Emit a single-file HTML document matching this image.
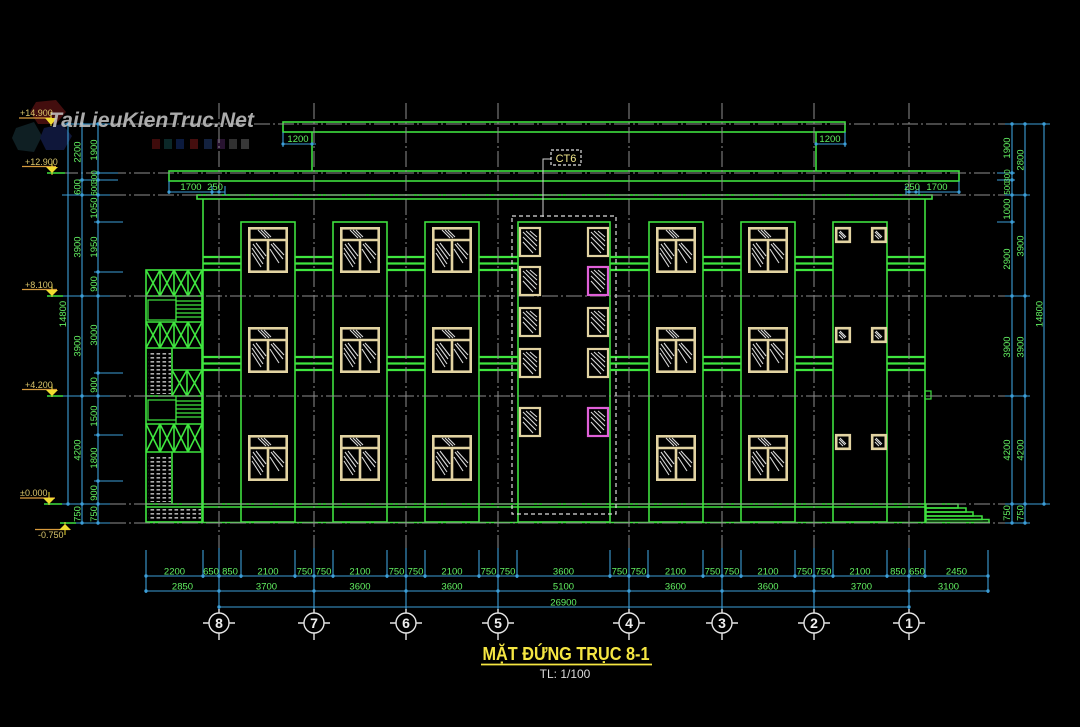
<!DOCTYPE html>
<html>
<head>
<meta charset="utf-8">
<style>
html,body{margin:0;padding:0;background:#000;}
body{width:1080px;height:727px;overflow:hidden;}
svg{display:block;}
.t{font-family:"Liberation Sans Narrow","Liberation Sans",sans-serif;font-size:9.5px;fill:#62f062;}
.lv{font-family:"Liberation Sans Narrow","Liberation Sans",sans-serif;font-size:9px;fill:#d8c46a;}
</style>
</head>
<body>
<svg width="1080" height="727" viewBox="0 0 1080 727" xmlns="http://www.w3.org/2000/svg">
<rect width="1080" height="727" fill="#000"/>
<defs>
  <pattern id="dots" width="6" height="4" patternUnits="userSpaceOnUse">
    <rect x="0.5" y="1.2" width="3.6" height="1.3" fill="#d8d8d8"/>
  </pattern>
  <g id="win">
    <rect x="1.3" y="1.3" width="37.4" height="43.4" fill="#000" stroke="#e2d3a2" stroke-width="2.6"/>
    <path d="M2 13H38M20 13V45" stroke="#e2d3a2" stroke-width="2.6" fill="none"/>
    <path d="M10 3L18 11M13 3L21 11M16 3L23 10M5 17L16 32M4 21L15 37M4 26L13 40M8 16L18 29M23 17L35 32M25 16L36 28M22 22L31 36" stroke="#d8d8d8" stroke-width="1.1" fill="none"/>
  </g>
  <g id="sw">
    <rect x="1" y="1" width="20" height="28" fill="#000" stroke="#e2d3a2" stroke-width="2.2"/>
    <path d="M4 5L18 19M4 10L17 23M4 15L14 26M7 4L18 14M11 4L18 10" stroke="#d8d8d8" stroke-width="1.1" fill="none"/>
  </g>
  <g id="swm">
    <rect x="1" y="1" width="20" height="28" fill="#000" stroke="#e060d8" stroke-width="2.2"/>
    <path d="M4 5L18 19M4 10L17 23M4 15L14 26M7 4L18 14M11 4L18 10" stroke="#d8d8d8" stroke-width="1.1" fill="none"/>
  </g>
  <g id="sq">
    <rect x="1.2" y="1.2" width="13.6" height="13.6" fill="#000" stroke="#e2d3a2" stroke-width="2.6"/>
    <path d="M4 5L10 11M5 4L11 10M4 8L8 12" stroke="#d8d8d8" stroke-width="1.1" fill="none"/>
  </g>
</defs>

<!-- watermark logo -->
<g opacity="0.55">
  <polygon points="36,102 56,100 66,112 56,124 38,124 30,112" fill="#7a1a1a"/>
  <polygon points="16,128 34,122 42,136 34,152 18,150 12,138" fill="#1c3a40"/>
  <polygon points="44,128 62,124 72,136 64,150 46,150 40,138" fill="#1c2a6a"/>
</g>
<g opacity="0.45">
  <rect x="152" y="139" width="8" height="10" fill="#8a1a1a"/>
  <rect x="164" y="139" width="8" height="10" fill="#1a5a5a"/>
  <rect x="176" y="139" width="8" height="10" fill="#1a3a8a"/>
  <rect x="190" y="139" width="8" height="10" fill="#9a2020"/>
  <rect x="204" y="139" width="8" height="10" fill="#2a4a8a"/>
  <rect x="217" y="139" width="8" height="10" fill="#5a2a6a"/>
  <rect x="229" y="139" width="8" height="10" fill="#6a6a6a"/>
  <rect x="241" y="139" width="8" height="10" fill="#7a7a7a"/>
</g>

<!-- building base green elements -->
<g stroke="#3fe03f" fill="none" stroke-width="1.6">
  <rect x="283" y="122" width="562" height="10"/>
  <line x1="312" y1="132" x2="312" y2="171"/>
  <line x1="816" y1="132" x2="816" y2="171"/>
  <rect x="169" y="171" width="790" height="10"/>
  <rect x="197" y="195" width="735" height="4"/>
  <line x1="203" y1="199" x2="203" y2="522"/>
  <line x1="925" y1="199" x2="925" y2="522"/>
</g>
<!-- horizontal bands -->
<g stroke="#3fe63f" stroke-width="2.3">
  <line x1="203" y1="257" x2="925" y2="257"/>
  <line x1="203" y1="263.5" x2="925" y2="263.5"/>
  <line x1="203" y1="270" x2="925" y2="270"/>
  <line x1="203" y1="357" x2="925" y2="357"/>
  <line x1="203" y1="363.5" x2="925" y2="363.5"/>
  <line x1="203" y1="370" x2="925" y2="370"/>
</g>
<!-- pilasters -->
<g stroke="#3fe03f" fill="#000" stroke-width="1.6">
  <rect x="241" y="222" width="54" height="300"/>
  <rect x="333" y="222" width="54" height="300"/>
  <rect x="425" y="222" width="54" height="300"/>
  <rect x="518" y="222" width="92" height="300"/>
  <rect x="649" y="222" width="54" height="300"/>
  <rect x="741" y="222" width="54" height="300"/>
  <rect x="833" y="222" width="54" height="300"/>
</g>
<!-- plinth -->
<g stroke="#3fe03f" fill="none" stroke-width="1.5">
  <line x1="146" y1="504" x2="925" y2="504"/>
  <line x1="146" y1="507" x2="925" y2="507"/>
  <line x1="146" y1="522.5" x2="990" y2="522.5"/>
  <rect x="926" y="504" width="32" height="4"/>
  <rect x="926" y="508" width="40" height="4"/>
  <rect x="926" y="512" width="47" height="4"/>
  <rect x="926" y="516" width="56" height="3.5"/>
  <rect x="926" y="519.5" width="63" height="3"/>
  <rect x="925" y="391" width="6" height="8" stroke-width="1.2"/>
</g>

<!-- stair tower -->
<g stroke="#3fe63f" fill="none" stroke-width="1.6">
  <rect x="146" y="270" width="56" height="252"/>
  <path d="M146 296H202M146 322H202M146 348H202M146 396H202M146 424H202M146 452H202"/>
  <path d="M160 270V296M174 270V296M188 270V296M146 270L160 296M160 270L146 296M160 270L174 296M174 270L160 296M174 270L188 296M188 270L174 296M188 270L202 296M202 270L188 296"/>
  <path d="M160 322V348M174 322V348M188 322V348M146 322L160 348M160 322L146 348M160 322L174 348M174 322L160 348M174 322L188 348M188 322L174 348M188 322L202 348M202 322L188 348"/>
  <path d="M160 424V452M174 424V452M188 424V452M146 424L160 452M160 424L146 452M160 424L174 452M174 424L160 452M174 424L188 452M188 424L174 452M188 424L202 452M202 424L188 452"/>
  <path d="M172 370H202M187 370V396M172 370L187 396M187 370L172 396M187 370L202 396M202 370L187 396"/>
  <path d="M172 348V396M172 452V504"/>
  <rect x="148" y="300" width="28" height="20" stroke-width="1.2"/>
  <rect x="148" y="400" width="28" height="20" stroke-width="1.2"/>
  <path d="M176 296V322M176 301H202M176 305H202M176 309H202M176 313H202M176 317H202M176 396V424M176 401H202M176 405H202M176 409H202M176 413H202M176 417H202" stroke-width="1.2"/>
</g>
<rect x="148" y="351" width="23" height="43" fill="url(#dots)"/>
<rect x="148" y="455" width="23" height="47" fill="url(#dots)"/>
<rect x="148" y="509" width="53" height="12" fill="url(#dots)"/>

<!-- level dash-dot lines -->
<g stroke="#8e8e8e" stroke-width="1" stroke-dasharray="16 3 2 3" fill="none">
  <line x1="62" y1="124" x2="1012" y2="124"/>
  <line x1="62" y1="173" x2="1012" y2="173"/>
  <line x1="62" y1="195" x2="1012" y2="195"/>
  <line x1="62" y1="296" x2="1012" y2="296"/>
  <line x1="62" y1="396" x2="1012" y2="396"/>
  <line x1="62" y1="504" x2="1012" y2="504"/>
  <line x1="62" y1="523" x2="1012" y2="523"/>
  <line x1="219" y1="103" x2="219" y2="612"/>
  <line x1="314" y1="103" x2="314" y2="612"/>
  <line x1="406" y1="103" x2="406" y2="612"/>
  <line x1="498" y1="103" x2="498" y2="612"/>
  <line x1="629" y1="103" x2="629" y2="612"/>
  <line x1="722" y1="103" x2="722" y2="612"/>
  <line x1="814" y1="103" x2="814" y2="612"/>
  <line x1="909" y1="103" x2="909" y2="612"/>
</g>

<!-- windows -->
<use href="#win" x="248" y="227"/><use href="#win" x="340" y="227"/><use href="#win" x="432" y="227"/><use href="#win" x="656" y="227"/><use href="#win" x="748" y="227"/>
<use href="#win" x="248" y="327"/><use href="#win" x="340" y="327"/><use href="#win" x="432" y="327"/><use href="#win" x="656" y="327"/><use href="#win" x="748" y="327"/>
<use href="#win" x="248" y="435"/><use href="#win" x="340" y="435"/><use href="#win" x="432" y="435"/><use href="#win" x="656" y="435"/><use href="#win" x="748" y="435"/>

<use href="#sw" x="519" y="227"/><use href="#sw" x="519" y="266"/><use href="#sw" x="519" y="307"/><use href="#sw" x="519" y="348"/><use href="#sw" x="519" y="407"/>
<use href="#sw" x="587" y="227"/><use href="#swm" x="587" y="266"/><use href="#sw" x="587" y="307"/><use href="#sw" x="587" y="348"/><use href="#swm" x="587" y="407"/>

<use href="#sq" x="835" y="227"/><use href="#sq" x="871" y="227"/>
<use href="#sq" x="835" y="327"/><use href="#sq" x="871" y="327"/>
<use href="#sq" x="835" y="434"/><use href="#sq" x="871" y="434"/>

<!-- CT6 callout -->
<rect x="512" y="216" width="104" height="298" fill="none" stroke="#dcdcdc" stroke-width="1.2" stroke-dasharray="4 3"/>
<path d="M543 217V159H551" fill="none" stroke="#d0d0d0" stroke-width="1"/>
<rect x="551" y="150" width="30" height="15" fill="#000" stroke="#e0e0e0" stroke-width="1.2" stroke-dasharray="3 2"/>
<text x="566" y="162" text-anchor="middle" style="font-family:'Liberation Sans Narrow','Liberation Sans',sans-serif;font-size:11px;fill:#f0e68a;">CT6</text>

<!-- top small dims -->
<g stroke="#3c9ed8" stroke-width="1.1" fill="none">
  <path d="M283 132V147M283 144H316M816 144H845M845 132V147"/>
  <path d="M169 181V194M169 192H225M212 186V195M225 186V195M906 186V195M919 186V195M906 192H959M959 181V194"/>
</g>
<g fill="#3c9ed8">
  <circle cx="283" cy="144" r="1.6"/><circle cx="312" cy="144" r="1.6"/><circle cx="816" cy="144" r="1.6"/><circle cx="845" cy="144" r="1.6"/>
  <circle cx="169" cy="192" r="1.6"/><circle cx="212" cy="192" r="1.6"/><circle cx="219" cy="192" r="1.6"/>
  <circle cx="909" cy="192" r="1.6"/><circle cx="916" cy="192" r="1.6"/><circle cx="959" cy="192" r="1.6"/>
</g>
<text class="t" x="298" y="142" text-anchor="middle">1200</text>
<text class="t" x="830" y="142" text-anchor="middle">1200</text>
<text class="t" x="191" y="190" text-anchor="middle">1700</text>
<text class="t" x="215" y="190" text-anchor="middle">250</text>
<text class="t" x="912" y="190" text-anchor="middle">250</text>
<text class="t" x="937" y="190" text-anchor="middle">1700</text>

<!-- left dimensions -->
<g stroke="#3c9ed8" stroke-width="1.1" fill="none">
  <line x1="68" y1="124" x2="68" y2="504"/>
  <line x1="82" y1="124" x2="82" y2="523"/>
  <line x1="98" y1="124" x2="98" y2="523"/>
  <path d="M62 124H110M62 195H110M62 296H110M62 396H110M62 504H110M75 523H110M94 173H118M78 180H118M94 222H123M94 272H123M94 373H123M94 435H123M94 481H123"/>
</g>
<g fill="#3c9ed8">
  <circle cx="68" cy="124" r="1.7"/><circle cx="68" cy="504" r="1.7"/>
  <circle cx="82" cy="124" r="1.7"/><circle cx="82" cy="180" r="1.7"/><circle cx="82" cy="195" r="1.7"/><circle cx="82" cy="296" r="1.7"/><circle cx="82" cy="396" r="1.7"/><circle cx="82" cy="504" r="1.7"/><circle cx="82" cy="523" r="1.7"/>
  <circle cx="98" cy="124" r="1.7"/><circle cx="98" cy="173" r="1.7"/><circle cx="98" cy="180" r="1.7"/><circle cx="98" cy="195" r="1.7"/><circle cx="98" cy="222" r="1.7"/><circle cx="98" cy="272" r="1.7"/><circle cx="98" cy="296" r="1.7"/><circle cx="98" cy="373" r="1.7"/><circle cx="98" cy="396" r="1.7"/><circle cx="98" cy="435" r="1.7"/><circle cx="98" cy="481" r="1.7"/><circle cx="98" cy="504" r="1.7"/><circle cx="98" cy="523" r="1.7"/>
</g>
<g text-anchor="middle">
  <text class="t" transform="translate(66,314) rotate(-90)">14800</text>
  <text class="t" transform="translate(80.5,152) rotate(-90)">2200</text>
  <text class="t" transform="translate(80.5,187) rotate(-90)">600</text>
  <text class="t" transform="translate(80.5,247) rotate(-90)">3900</text>
  <text class="t" transform="translate(80.5,346) rotate(-90)">3900</text>
  <text class="t" transform="translate(80.5,450) rotate(-90)">4200</text>
  <text class="t" transform="translate(80.5,514) rotate(-90)">750</text>
  <text class="t" transform="translate(97,150) rotate(-90)">1900</text>
  <text class="t" transform="translate(97,177) rotate(-90)" style="font-size:8px">300</text>
  <text class="t" transform="translate(97,189) rotate(-90)" style="font-size:8px">600</text>
  <text class="t" transform="translate(97,208) rotate(-90)">1050</text>
  <text class="t" transform="translate(97,247) rotate(-90)">1950</text>
  <text class="t" transform="translate(97,284) rotate(-90)">900</text>
  <text class="t" transform="translate(97,335) rotate(-90)">3000</text>
  <text class="t" transform="translate(97,385) rotate(-90)">900</text>
  <text class="t" transform="translate(97,416) rotate(-90)">1500</text>
  <text class="t" transform="translate(97,458) rotate(-90)">1800</text>
  <text class="t" transform="translate(97,493) rotate(-90)">900</text>
  <text class="t" transform="translate(97,514) rotate(-90)">750</text>
</g>

<!-- right dimensions -->
<g stroke="#3c9ed8" stroke-width="1.1" fill="none">
  <line x1="1012" y1="124" x2="1012" y2="523"/>
  <line x1="1025" y1="124" x2="1025" y2="523"/>
  <line x1="1044" y1="124" x2="1044" y2="504"/>
  <path d="M1005 124H1050M1005 195H1030M1005 296H1030M1005 396H1030M1005 504H1050M1005 523H1030M997 173H1015M997 180H1015M997 222H1015"/>
</g>
<g fill="#3c9ed8">
  <circle cx="1012" cy="124" r="1.7"/><circle cx="1012" cy="173" r="1.7"/><circle cx="1012" cy="180" r="1.7"/><circle cx="1012" cy="195" r="1.7"/><circle cx="1012" cy="222" r="1.7"/><circle cx="1012" cy="296" r="1.7"/><circle cx="1012" cy="396" r="1.7"/><circle cx="1012" cy="504" r="1.7"/><circle cx="1012" cy="523" r="1.7"/>
  <circle cx="1025" cy="124" r="1.7"/><circle cx="1025" cy="195" r="1.7"/><circle cx="1025" cy="296" r="1.7"/><circle cx="1025" cy="396" r="1.7"/><circle cx="1025" cy="504" r="1.7"/><circle cx="1025" cy="523" r="1.7"/>
  <circle cx="1044" cy="124" r="1.7"/><circle cx="1044" cy="504" r="1.7"/>
</g>
<g>
  <text class="t" text-anchor="middle" transform="translate(1010,148) rotate(-90)">1900</text>
  <text class="t" text-anchor="middle" transform="translate(1010,176) rotate(-90)" style="font-size:8px">300</text>
  <text class="t" text-anchor="middle" transform="translate(1010,188) rotate(-90)" style="font-size:8px">500</text>
  <text class="t" text-anchor="middle" transform="translate(1010,209) rotate(-90)">1000</text>
  <text class="t" text-anchor="middle" transform="translate(1010,259) rotate(-90)">2900</text>
  <text class="t" text-anchor="middle" transform="translate(1010,347) rotate(-90)">3900</text>
  <text class="t" text-anchor="middle" transform="translate(1010,450) rotate(-90)">4200</text>
  <text class="t" text-anchor="middle" transform="translate(1010,513) rotate(-90)">750</text>
  <text class="t" text-anchor="middle" transform="translate(1023.5,160) rotate(-90)">2800</text>
  <text class="t" text-anchor="middle" transform="translate(1023.5,246) rotate(-90)">3900</text>
  <text class="t" text-anchor="middle" transform="translate(1023.5,347) rotate(-90)">3900</text>
  <text class="t" text-anchor="middle" transform="translate(1023.5,450) rotate(-90)">4200</text>
  <text class="t" text-anchor="middle" transform="translate(1023.5,513) rotate(-90)">750</text>
  <text class="t" text-anchor="middle" transform="translate(1042.5,314) rotate(-90)">14800</text>
</g>

<!-- level markers -->
<g>
  <path d="M19 118H52M22 166.5H56M22 289.5H57M22 389.5H57M20 498H55M35 529.5H70" stroke="#d89a3c" stroke-width="1.3" fill="none"/>
  <path d="M47 173H65M47 296H63M47 396H63M44 504H62M60 523H76" stroke="#3fe03f" stroke-width="1.4" fill="none"/>
  <g fill="#f0dc30">
    <polygon points="45,118 57,118 51,125"/>
    <polygon points="46,167 58,167 52,173"/>
    <polygon points="46,290 58,290 52,296"/>
    <polygon points="46,390 58,390 52,396"/>
    <polygon points="43,498 55,498 49,504"/>
    <polygon points="59,530 71,530 65,524"/>
  </g>
  <path d="M51 112V126M52 161V175M52 284V297M52 384V397M49 492V505M65 522V535" stroke="#f0dc30" stroke-width="1" fill="none"/>
  <text class="lv" x="20" y="116">+14.900</text>
  <text class="lv" x="25" y="165">+12.900</text>
  <text class="lv" x="25" y="288">+8.100</text>
  <text class="lv" x="25" y="388">+4.200</text>
  <text class="lv" x="20" y="496">±0.000</text>
  <text class="lv" x="38" y="538">-0.750</text>
</g>

<!-- bottom dimensions -->
<g stroke="#3c9ed8" stroke-width="1.1" fill="none">
  <line x1="146" y1="576" x2="988" y2="576"/>
  <line x1="146" y1="591" x2="988" y2="591"/>
  <line x1="219" y1="607" x2="909" y2="607"/>
  <path d="M146 550V593M203 550V578M219 548V609M241 550V578M295 550V578M314 548V609M333 550V578M387 550V578M406 548V609M425 550V578M479 550V578M498 548V609M517 550V578M610 550V578M629 548V609M648 550V578M703 550V578M722 548V609M741 550V578M795 550V578M814 548V609M833 550V578M887 550V578M909 548V609M925 550V578M988 550V593"/>
</g>
<g fill="#3c9ed8">
  <circle cx="146" cy="576" r="1.7"/><circle cx="203" cy="576" r="1.7"/><circle cx="219" cy="576" r="1.7"/><circle cx="241" cy="576" r="1.7"/><circle cx="295" cy="576" r="1.7"/><circle cx="314" cy="576" r="1.7"/><circle cx="333" cy="576" r="1.7"/><circle cx="387" cy="576" r="1.7"/><circle cx="406" cy="576" r="1.7"/><circle cx="425" cy="576" r="1.7"/><circle cx="479" cy="576" r="1.7"/><circle cx="498" cy="576" r="1.7"/><circle cx="517" cy="576" r="1.7"/><circle cx="610" cy="576" r="1.7"/><circle cx="629" cy="576" r="1.7"/><circle cx="648" cy="576" r="1.7"/><circle cx="703" cy="576" r="1.7"/><circle cx="722" cy="576" r="1.7"/><circle cx="741" cy="576" r="1.7"/><circle cx="795" cy="576" r="1.7"/><circle cx="814" cy="576" r="1.7"/><circle cx="833" cy="576" r="1.7"/><circle cx="887" cy="576" r="1.7"/><circle cx="909" cy="576" r="1.7"/><circle cx="925" cy="576" r="1.7"/><circle cx="988" cy="576" r="1.7"/>
  <circle cx="146" cy="591" r="1.7"/><circle cx="219" cy="591" r="1.7"/><circle cx="314" cy="591" r="1.7"/><circle cx="406" cy="591" r="1.7"/><circle cx="498" cy="591" r="1.7"/><circle cx="629" cy="591" r="1.7"/><circle cx="722" cy="591" r="1.7"/><circle cx="814" cy="591" r="1.7"/><circle cx="909" cy="591" r="1.7"/><circle cx="988" cy="591" r="1.7"/>
  <circle cx="219" cy="607" r="1.7"/><circle cx="909" cy="607" r="1.7"/>
</g>
<g text-anchor="middle">
  <text class="t" x="174.5" y="574.5">2200</text>
  <text class="t" x="211" y="574.5">650</text>
  <text class="t" x="230" y="574.5">850</text>
  <text class="t" x="268" y="574.5">2100</text>
  <text class="t" x="304.5" y="574.5">750</text>
  <text class="t" x="323.5" y="574.5">750</text>
  <text class="t" x="360" y="574.5">2100</text>
  <text class="t" x="396.5" y="574.5">750</text>
  <text class="t" x="415.5" y="574.5">750</text>
  <text class="t" x="452" y="574.5">2100</text>
  <text class="t" x="488.5" y="574.5">750</text>
  <text class="t" x="507.5" y="574.5">750</text>
  <text class="t" x="563.5" y="574.5">3600</text>
  <text class="t" x="619.5" y="574.5">750</text>
  <text class="t" x="638.5" y="574.5">750</text>
  <text class="t" x="675.5" y="574.5">2100</text>
  <text class="t" x="712.5" y="574.5">750</text>
  <text class="t" x="731.5" y="574.5">750</text>
  <text class="t" x="768" y="574.5">2100</text>
  <text class="t" x="804.5" y="574.5">750</text>
  <text class="t" x="823.5" y="574.5">750</text>
  <text class="t" x="860" y="574.5">2100</text>
  <text class="t" x="898" y="574.5">850</text>
  <text class="t" x="917" y="574.5">650</text>
  <text class="t" x="956.5" y="574.5">2450</text>

  <text class="t" x="182.5" y="589.5">2850</text>
  <text class="t" x="266.5" y="589.5">3700</text>
  <text class="t" x="360" y="589.5">3600</text>
  <text class="t" x="452" y="589.5">3600</text>
  <text class="t" x="563.5" y="589.5">5100</text>
  <text class="t" x="675.5" y="589.5">3600</text>
  <text class="t" x="768" y="589.5">3600</text>
  <text class="t" x="861.5" y="589.5">3700</text>
  <text class="t" x="948.5" y="589.5">3100</text>

  <text class="t" x="563.5" y="605.5">26900</text>
</g>

<!-- axis bubbles -->
<g stroke="#e6e6e6" stroke-width="1.4" fill="#000">
  <path d="M203 623H235M219 609V640M298 623H330M314 609V640M390 623H422M406 609V640M482 623H514M498 609V640M613 623H645M629 609V640M706 623H738M722 609V640M798 623H830M814 609V640M893 623H925M909 609V640" fill="none"/>
  <circle cx="219" cy="623" r="10"/><circle cx="314" cy="623" r="10"/><circle cx="406" cy="623" r="10"/><circle cx="498" cy="623" r="10"/>
  <circle cx="629" cy="623" r="10"/><circle cx="722" cy="623" r="10"/><circle cx="814" cy="623" r="10"/><circle cx="909" cy="623" r="10"/>
</g>
<g style="font-family:'Liberation Sans Narrow','Liberation Sans',sans-serif;font-size:14px;font-weight:bold;fill:#f0f0f0;" text-anchor="middle">
  <text x="219" y="628">8</text><text x="314" y="628">7</text><text x="406" y="628">6</text><text x="498" y="628">5</text>
  <text x="629" y="628">4</text><text x="722" y="628">3</text><text x="814" y="628">2</text><text x="909" y="628">1</text>
</g>

<!-- title -->
<text x="566" y="660" text-anchor="middle" textLength="167" lengthAdjust="spacingAndGlyphs" style="font-family:'Liberation Sans Narrow','Liberation Sans',sans-serif;font-size:18px;font-weight:bold;fill:#f5e642;">MẶT ĐỨNG TRỤC 8-1</text>
<line x1="481" y1="664.5" x2="652" y2="664.5" stroke="#f5e642" stroke-width="1.8"/>
<text x="565" y="678" text-anchor="middle" style="font-family:'Liberation Sans Narrow','Liberation Sans',sans-serif;font-size:12px;fill:#dcdcdc;">TL: 1/100</text>

<!-- watermark text -->
<text x="49" y="127" textLength="205" lengthAdjust="spacingAndGlyphs" style="font-family:'Liberation Sans','DejaVu Sans',sans-serif;font-size:21px;font-weight:bold;font-style:italic;fill:#c8c8c8;opacity:0.85;">TaiLieuKienTruc.Net</text>
</svg>
</body>
</html>
